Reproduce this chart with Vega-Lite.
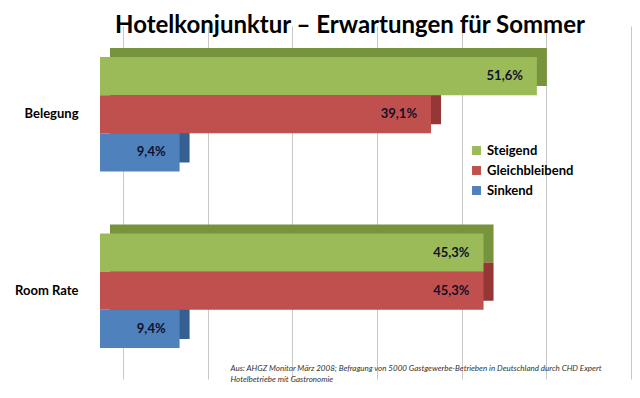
{
  "$schema": "https://vega.github.io/schema/vega-lite/v6.json",
  "width": 508,
  "height": 353,
  "autosize": {"type": "none"},
  "padding": {"left": 100, "top": 26, "right": 32, "bottom": 19},
  "background": "white",
  "config": {
    "font": "Lato",
    "view": {"stroke": null},
    "locale": {"number": {"decimal": ",", "thousands": ".", "grouping": [3], "currency": ["", " €"]}}
  },
  "title": {
    "text": "Hotelkonjunktur – Erwartungen für Sommer",
    "font": "Lato",
    "fontSize": 24,
    "fontWeight": "bold",
    "color": "#000000",
    "anchor": "middle",
    "offset": -12,
    "dx": -4
  },
  "data": {
    "values": [
      {"kategorie": "Belegung", "serie": "Steigend", "wert": 0.516},
      {"kategorie": "Belegung", "serie": "Gleichbleibend", "wert": 0.391},
      {"kategorie": "Belegung", "serie": "Sinkend", "wert": 0.094},
      {"kategorie": "Room Rate", "serie": "Steigend", "wert": 0.453},
      {"kategorie": "Room Rate", "serie": "Gleichbleibend", "wert": 0.453},
      {"kategorie": "Room Rate", "serie": "Sinkend", "wert": 0.094}
    ]
  },
  "encoding": {
    "y": {
      "field": "kategorie",
      "type": "nominal",
      "sort": ["Belegung", "Room Rate"],
      "scale": {"paddingInner": 0.35, "paddingOuter": 0.175},
      "axis": {
        "title": null,
        "domain": false,
        "ticks": false,
        "labelPadding": 22,
        "labelFont": "Lato",
        "labelFontSize": 13,
        "labelFontWeight": "bold",
        "labelColor": "#000000"
      }
    },
    "x": {
      "field": "wert",
      "type": "quantitative",
      "scale": {"domain": [0, 0.6], "nice": false},
      "axis": {
        "labels": false,
        "ticks": false,
        "domain": false,
        "grid": true,
        "gridColor": "#c8c8c8",
        "tickCount": 6,
        "tickOffset": 23,
        "title": ["Aus: AHGZ Monitor März 2008; Befragung von 5000 Gastgewerbe-Betrieben in Deutschland durch CHD Expert", "Hotelbetriebe mit Gastronomie"],
        "titleFont": "Lato",
        "titleFontSize": 8,
        "titleFontWeight": "normal",
        "titleFontStyle": "italic",
        "titleColor": "#333333",
        "titleAnchor": "start",
        "titleAlign": "left",
        "titleBaseline": "top",
        "titleLineHeight": 11,
        "titleX": 130,
        "titleY": -15
      }
    }
  },
  "layer": [
    {
      "mark": {"type": "bar", "xOffset": 10},
      "encoding": {
        "yOffset": {
          "field": "serie",
          "type": "nominal",
          "sort": ["Steigend", "Gleichbleibend", "Sinkend"],
          "scale": {"paddingInner": 0, "paddingOuter": 0, "range": [-9, 105.7]}
        },
        "color": {
          "field": "serie",
          "type": "nominal",
          "scale": {"domain": ["Steigend", "Gleichbleibend", "Sinkend"], "range": ["#77933c", "#953735", "#376092"]},
          "legend": null
        }
      }
    },
    {
      "encoding": {
        "yOffset": {
          "field": "serie",
          "type": "nominal",
          "sort": ["Steigend", "Gleichbleibend", "Sinkend"],
          "scale": {"paddingInner": 0, "paddingOuter": 0}
        }
      },
      "layer": [
        {
          "mark": {"type": "bar"},
          "encoding": {
            "color": {
              "field": "serie",
              "type": "nominal",
              "scale": {"domain": ["Steigend", "Gleichbleibend", "Sinkend"], "range": ["#9bbb59", "#c0504d", "#4f81bd"]},
              "legend": {
                "title": null,
                "orient": "none",
                "legendX": 370,
                "legendY": 118,
                "symbolType": "square",
                "symbolSize": 80,
                "symbolStrokeWidth": 0,
                "rowPadding": 6,
                "labelFont": "Lato",
                "labelFontSize": 13,
                "labelFontWeight": "bold",
                "labelColor": "#000000",
                "labelOffset": 4
              }
            }
          }
        },
        {
          "mark": {"type": "text", "align": "right", "baseline": "middle", "dx": -14, "font": "Lato", "fontSize": 13, "fontWeight": "bold", "color": "#10102a"},
          "encoding": {
            "text": {"field": "wert", "type": "quantitative", "format": ".1%"}
          }
        }
      ]
    }
  ],
  "resolve": {"scale": {"color": "independent", "yOffset": "independent"}}
}
